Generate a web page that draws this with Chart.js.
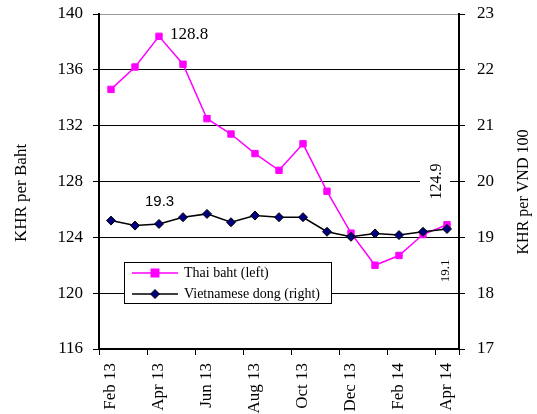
<!DOCTYPE html>
<html><head><meta charset="utf-8">
<script src="https://cdn.jsdelivr.net/npm/chart.js@4.4.1/dist/chart.umd.min.js"></script>
<style>html,body{margin:0;padding:0;background:#fff}#c{display:block}</style>
</head><body>
<canvas id="c" width="537" height="414"></canvas>
<script>
const categories = ["Feb 13","Mar 13","Apr 13","May 13","Jun 13","Jul 13","Aug 13","Sep 13","Oct 13","Nov 13","Dec 13","Jan 14","Feb 14","Mar 14","Apr 14"];
const thaiBaht = [134.6,136.2,138.4,136.4,132.5,131.4,130.0,128.8,130.7,127.3,124.3,122.0,122.7,124.2,124.9];
const vietDong = [19.30,19.21,19.24,19.36,19.42,19.27,19.39,19.36,19.36,19.10,19.01,19.07,19.04,19.10,19.15];
const leftTicks = [116,120,124,128,132,136,140];
const rightTicks = [17,18,19,20,21,22,23];
const seriesNames = ["Thai baht (left)","Vietnamese dong (right)"];
const axisTitles = ["KHR per Baht","KHR per VND 100"];
const notes = ["128.8","19.3","124.9","19.1"];

const SERIF = "'Liberation Serif', 'Times New Roman', serif";
const SANS = "'Liberation Sans', Arial, sans-serif";

function noPad(s) { s.paddingTop = 0; s.paddingBottom = 0; s.paddingLeft = 0; s.paddingRight = 0; }

const overlay = {
  id: 'overlay',
  afterDatasetsDraw(chart) {
    const ctx = chart.ctx, ca = chart.chartArea;
    const xs = chart.scales.x, ys = chart.scales.y, ys1 = chart.scales.y1;
    ctx.save();
    // white area behind rotated label
    const pApr = xs.getPixelForValue(14);
    ctx.fillStyle = '#fff';
    ctx.fillRect(pApr - 27, ys.getPixelForValue(130), 30, ys.getPixelForValue(126.6) - ys.getPixelForValue(130));
    ctx.fillStyle = '#000';
    // 128.8 label
    ctx.font = '17px ' + SERIF;
    ctx.textAlign = 'left'; ctx.textBaseline = 'middle';
    ctx.fillText(notes[0], xs.getPixelForValue(2) + 11, ys.getPixelForValue(thaiBaht[2]) - 2);
    // 19.3 label
    ctx.font = '15px ' + SANS;
    ctx.fillText(notes[1], xs.getPixelForValue(1) + 10, ys1.getPixelForValue(vietDong[1]) - 24);
    // 124.9 rotated
    ctx.save();
    ctx.translate(pApr - 10, ys.getPixelForValue(128));
    ctx.rotate(-Math.PI/2);
    ctx.font = '16px ' + SERIF;
    ctx.textAlign = 'center'; ctx.textBaseline = 'middle';
    ctx.fillText(notes[2], 0, 0);
    ctx.restore();
    // 19.1 rotated
    ctx.save();
    ctx.translate(pApr - 1, ys1.getPixelForValue(18.4));
    ctx.rotate(-Math.PI/2);
    ctx.font = '13px ' + SERIF;
    ctx.textAlign = 'center'; ctx.textBaseline = 'middle';
    ctx.fillText(notes[3], 0, 0);
    ctx.restore();

    // axis titles
    ctx.font = '17px ' + SERIF;
    ctx.textAlign = 'center'; ctx.textBaseline = 'middle';
    ctx.save(); ctx.translate(22, 193); ctx.rotate(-Math.PI/2); ctx.fillText(axisTitles[0], 0, 0); ctx.restore();
    ctx.font = '16px ' + SERIF;
    ctx.save(); ctx.translate(524, 192); ctx.rotate(-Math.PI/2); ctx.fillText(axisTitles[1], 0, 0); ctx.restore();

    // legend box
    const bx = ca.left + 25, by = 262, bw = 207, bh = 41;
    ctx.fillStyle = '#fff';
    ctx.fillRect(bx, by, bw, bh);
    ctx.strokeStyle = '#000'; ctx.lineWidth = 1;
    ctx.strokeRect(bx + 0.5, by + 0.5, bw, bh);
    const ds = chart.data.datasets;
    const rows = [{d: ds[1], y: by + 11, shape: 'rect'}, {d: ds[0], y: by + 32, shape: 'diamond'}];
    ctx.font = '14px ' + SERIF;
    ctx.textAlign = 'left'; ctx.textBaseline = 'middle';
    rows.forEach(r => {
      ctx.strokeStyle = r.d.borderColor; ctx.lineWidth = 1.5;
      ctx.beginPath(); ctx.moveTo(bx + 8, r.y); ctx.lineTo(bx + 54, r.y); ctx.stroke();
      const cx = bx + 31;
      ctx.fillStyle = r.d.pointBackgroundColor;
      if (r.shape === 'rect') {
        ctx.fillRect(cx - 4.5, r.y - 4.5, 9, 9);
      } else {
        ctx.beginPath(); ctx.moveTo(cx, r.y - 4.5); ctx.lineTo(cx + 4.5, r.y); ctx.lineTo(cx, r.y + 4.5); ctx.lineTo(cx - 4.5, r.y); ctx.closePath();
        ctx.fill(); ctx.strokeStyle = '#000'; ctx.lineWidth = 1; ctx.stroke();
      }
      ctx.fillStyle = '#000';
      ctx.fillText(r.d.label, bx + 60, r.y);
    });
    ctx.restore();
  }
};

new Chart(document.getElementById('c'), {
  type: 'line',
  data: {
    labels: categories,
    datasets: [
      { label: seriesNames[1], data: vietDong, yAxisID: 'y1', order: 0,
        borderColor: '#000', borderWidth: 1.5, pointStyle: 'rectRot', pointRadius: 4.5,
        pointBackgroundColor: '#000080', pointBorderColor: '#000', pointBorderWidth: 1, tension: 0 },
      { label: seriesNames[0], data: thaiBaht, yAxisID: 'y', order: 1,
        borderColor: '#FF00FF', borderWidth: 1.5, pointStyle: 'rect', pointRadius: 4.5,
        pointBackgroundColor: '#FF00FF', pointBorderColor: '#FF00FF', pointBorderWidth: 1, tension: 0 }
    ]
  },
  options: {
    responsive: false, animation: false,
    layout: { padding: { top: 14, left: 0, right: 0, bottom: 0 } },
    plugins: { legend: { display: false }, tooltip: { enabled: false } },
    scales: {
      x: {
        type: 'category', offset: true,
        grid: { offset: true, drawOnChartArea: false, tickLength: 6,
          tickColor: c => (c.index === undefined || c.index % 2 === 0) ? '#000' : 'rgba(0,0,0,0)', tickWidth: 1 },
        border: { color: '#000', width: 2 },
        ticks: { autoSkip: false, maxRotation: 90, minRotation: 90, padding: 8, color: '#000',
          font: { family: SERIF, size: 17 },
          callback: (v, i) => i % 2 === 0 ? categories[i] : '' },
        afterFit: s => { s.height = 65; noPad(s); }
      },
      y: {
        position: 'left', min: leftTicks[0], max: leftTicks[leftTicks.length-1],
        afterBuildTicks: s => { s.ticks = leftTicks.map(v => ({value: v})); },
        grid: { color: c => (c.tick && c.tick.value === 140) ? '#9a9a9a' : '#000', lineWidth: 1, tickLength: 6, tickColor: '#000' },
        border: { color: '#000', width: 2 },
        ticks: { padding: 10, color: '#000', font: { family: SERIF, size: 17 } },
        afterFit: s => { s.width = 99; noPad(s); }
      },
      y1: {
        position: 'right', min: rightTicks[0], max: rightTicks[rightTicks.length-1],
        afterBuildTicks: s => { s.ticks = rightTicks.map(v => ({value: v})); },
        grid: { drawOnChartArea: false, tickLength: 6, color: '#000' },
        border: { color: '#000', width: 2 },
        ticks: { padding: 12, color: '#000', font: { family: SERIF, size: 17 } },
        afterFit: s => { s.width = 78; noPad(s); }
      }
    }
  },
  plugins: [overlay]
});
</script>
</body></html>
